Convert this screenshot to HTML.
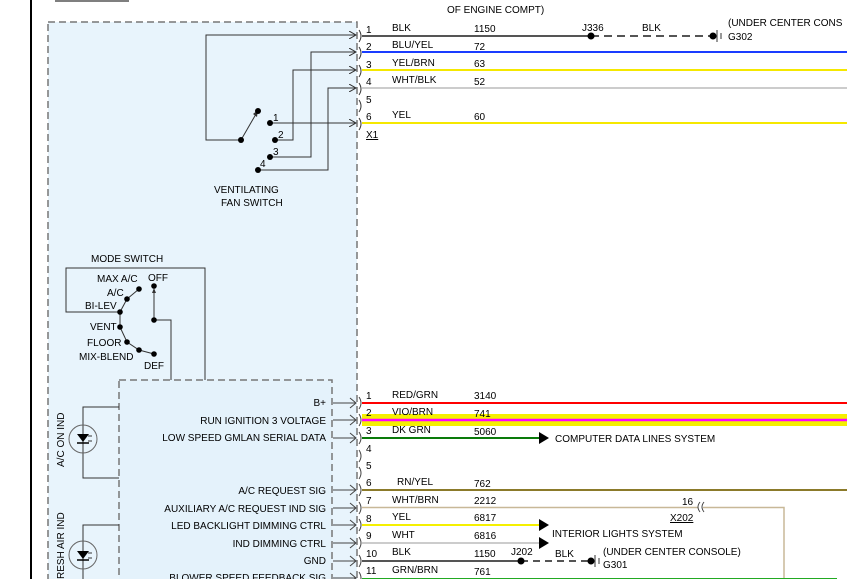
<!DOCTYPE html>
<html><head><meta charset="utf-8"><style>
html,body{margin:0;padding:0;background:#fff}
svg{display:block;font-family:"Liberation Sans",sans-serif;font-size:10px}
</style></head><body>
<svg width="847" height="579" viewBox="0 0 847 579" xmlns="http://www.w3.org/2000/svg">
<defs>
<marker id="a" markerWidth="8" markerHeight="8" refX="7" refY="4" orient="auto" markerUnits="userSpaceOnUse"><path d="M0,0 L7,4 L0,8" fill="none" stroke="#333" stroke-width="1"/></marker>
</defs>
<line x1="31" y1="0" x2="31" y2="579" stroke="#000" stroke-width="2"/>
<line x1="55" y1="1" x2="129" y2="1" stroke="#555" stroke-width="1.5"/>
<rect x="48" y="22" width="309" height="570" fill="#e8f4fc" stroke="#777" stroke-dasharray="7,4" stroke-width="1.5"/>
<rect x="119" y="380" width="213" height="220" fill="#e4f2fb" stroke="#777" stroke-dasharray="7,4" stroke-width="1.5"/>
<text x="447" y="13">OF ENGINE COMPT)</text>
<!-- top wires -->
<g stroke-width="2">
<line x1="362" y1="36" x2="591" y2="36" stroke="#555"/>
<line x1="591" y1="36" x2="712" y2="36" stroke="#555" stroke-dasharray="8,5"/>
<line x1="362" y1="52" x2="847" y2="52" stroke="#1a3cff"/>
<line x1="362" y1="70" x2="847" y2="70" stroke="#f5e800"/>
<line x1="362" y1="88" x2="847" y2="88" stroke="#ccc"/>
<line x1="362" y1="123" x2="847" y2="123" stroke="#f5e800"/>
</g>
<circle cx="591" cy="36" r="3.5"/><circle cx="713" cy="36" r="3.5"/>
<line x1="717" y1="30" x2="717" y2="42" stroke="#333"/><line x1="721" y1="33" x2="721" y2="39" stroke="#333"/>
<text x="582" y="31">J336</text><text x="642" y="31">BLK</text>
<text x="728" y="26">(UNDER CENTER CONS</text><text x="728" y="40">G302</text>
<g>
<text x="366" y="33">1</text><text x="392" y="31">BLK</text><text x="474" y="32">1150</text>
<text x="366" y="50">2</text><text x="392" y="48">BLU/YEL</text><text x="474" y="50">72</text>
<text x="366" y="68">3</text><text x="392" y="66">YEL/BRN</text><text x="474" y="67">63</text>
<text x="366" y="85">4</text><text x="392" y="83">WHT/BLK</text><text x="474" y="85">52</text>
<text x="366" y="103">5</text>
<text x="366" y="120">6</text><text x="392" y="118">YEL</text><text x="474" y="120">60</text>
<text x="366" y="138" text-decoration="underline">X1</text>
</g>
<g fill="none" stroke="#333" stroke-width="1">
<path d="M359,30 q4,6 0,12 M359,47 q4,6 0,12 M359,65 q4,6 0,12 M359,83 q4,6 0,12 M359,100 q4,6 0,12 M359,118 q4,6 0,12"/>
<path d="M241,140 H206 V35 H356" marker-end="url(#a)"/>
<path d="M270,123 H356" marker-end="url(#a)"/>
<path d="M275,140 H293 V70 H356" marker-end="url(#a)"/>
<path d="M270,157 H311 V52 H356" marker-end="url(#a)"/>
<path d="M258,170 H328 V88 H356" marker-end="url(#a)"/>
<line x1="241" y1="140" x2="256" y2="114"/>
</g>
<path d="M253,114 L258,110 L257,117 Z" fill="#333"/>
<circle cx="241" cy="140" r="3"/><circle cx="258" cy="111" r="3"/>
<circle cx="270" cy="123" r="3"/><circle cx="275" cy="140" r="3"/><circle cx="270" cy="157" r="3"/><circle cx="258" cy="170" r="3"/>
<text x="273" y="121">1</text><text x="278" y="138">2</text><text x="273" y="155">3</text><text x="260" y="167">4</text>
<text x="214" y="193">VENTILATING</text><text x="221" y="206">FAN SWITCH</text>
<!-- mode switch -->
<text x="91" y="262">MODE SWITCH</text>
<g fill="none" stroke="#333">
<path d="M120,312 H66 V268 H205 V380"/>
<path d="M139,289 L127,299 L120,312 L120,327 L127,342 L139,350 L154,354"/>
<path d="M154,289 V320 H171 V380"/>
</g>
<path d="M152,293 L154,288 L156,293 Z" fill="#333"/>
<g><circle cx="139" cy="289" r="2.8"/><circle cx="127" cy="299" r="2.8"/><circle cx="120" cy="312" r="2.8"/><circle cx="120" cy="327" r="2.8"/><circle cx="127" cy="342" r="2.8"/><circle cx="139" cy="350" r="2.8"/><circle cx="154" cy="354" r="2.8"/><circle cx="154" cy="286" r="2.8"/><circle cx="154" cy="320" r="2.8"/></g>
<text x="97" y="282">MAX A/C</text><text x="148" y="281">OFF</text><text x="107" y="296">A/C</text><text x="85" y="309">BI-LEV</text>
<text x="90" y="330">VENT</text><text x="87" y="346">FLOOR</text><text x="79" y="360">MIX-BLEND</text><text x="144" y="369">DEF</text>
<!-- LEDs -->
<g fill="none" stroke="#333">
<path d="M119,407 H83 V478 H119"/><circle cx="83" cy="439" r="14" stroke="#666"/>
<path d="M119,525 H83 V579"/><circle cx="83" cy="555" r="14" stroke="#666"/>
<path d="M88,436 l4,0 M88,441 l4,0"/><path d="M88,553 l4,0 M88,558 l4,0"/>
</g>
<path d="M77,434 H89 L83,442 Z M77,551 H89 L83,559 Z"/>
<line x1="77" y1="443" x2="89" y2="443" stroke="#000" stroke-width="1.5"/><line x1="77" y1="560" x2="89" y2="560" stroke="#000" stroke-width="1.5"/>
<text transform="translate(64,467) rotate(-90)">A/C ON IND</text>
<text transform="translate(64,579) rotate(-90)">RESH AIR IND</text>
<!-- lower labels -->
<g text-anchor="end">
<text x="326" y="406">B+</text><text x="326" y="424">RUN IGNITION 3 VOLTAGE</text><text x="326" y="441">LOW SPEED GMLAN SERIAL DATA</text>
<text x="326" y="494">A/C REQUEST SIG</text><text x="326" y="512">AUXILIARY A/C REQUEST IND SIG</text><text x="326" y="529">LED BACKLIGHT DIMMING CTRL</text>
<text x="326" y="547">IND DIMMING CTRL</text><text x="326" y="564">GND</text><text x="326" y="581">BLOWER SPEED FEEDBACK SIG</text>
</g>
<g fill="none" stroke="#444">
<path d="M333,403 H356 M333,420 H356 M333,438 H356 M333,490 H356 M333,508 H356 M333,525 H356 M333,543 H356 M333,561 H356 M333,578 H356" />
<path d="M350,398 l6,5 l-6,5 M350,415 l6,5 l-6,5 M350,433 l6,5 l-6,5 M350,485 l6,5 l-6,5 M350,503 l6,5 l-6,5 M350,520 l6,5 l-6,5 M350,538 l6,5 l-6,5 M350,556 l6,5 l-6,5 M350,573 l6,5 l-6,5"/>
<path d="M359,397 q4,6 0,12 M359,414 q4,6 0,12 M359,432 q4,6 0,12 M359,450 q4,6 0,12 M359,467 q4,6 0,12 M359,484 q4,6 0,12 M359,502 q4,6 0,12 M359,519 q4,6 0,12 M359,537 q4,6 0,12 M359,555 q4,6 0,12 M359,572 q4,6 0,12"/>
</g>
<rect x="362" y="414" width="485" height="12" fill="#f5f000"/>
<line x1="362" y1="420" x2="847" y2="420" stroke="#f0f" stroke-width="2.5"/>
<line x1="362" y1="403" x2="847" y2="403" stroke="#f00" stroke-width="2"/>
<line x1="362" y1="438" x2="540" y2="438" stroke="#0a7a0a" stroke-width="2"/>
<path d="M539,432 L549,438 L539,444 Z"/>
<text x="555" y="442">COMPUTER DATA LINES SYSTEM</text>
<line x1="362" y1="490" x2="847" y2="490" stroke="#8b7a2a" stroke-width="2"/>
<path d="M362,507.5 H698 M703,507.5 H784 V579" fill="none" stroke="#c8b898" stroke-width="1.5"/>
<path d="M700,502 q-4,5 0,10 M704,502 q-4,5 0,10" fill="none" stroke="#444"/>
<text x="682" y="505">16</text><text x="670" y="521" text-decoration="underline">X202</text>
<line x1="362" y1="525" x2="540" y2="525" stroke="#f5f000" stroke-width="2"/>
<path d="M539,519 L549,525 L539,531 Z"/>
<line x1="362" y1="543" x2="540" y2="543" stroke="#ccc" stroke-width="2"/>
<path d="M539,537 L549,543 L539,549 Z"/>
<text x="552" y="537">INTERIOR LIGHTS SYSTEM</text>
<line x1="362" y1="561" x2="521" y2="561" stroke="#555" stroke-width="2"/>
<line x1="521" y1="561" x2="591" y2="561" stroke="#555" stroke-width="2" stroke-dasharray="7,5"/>
<circle cx="521" cy="561" r="3.5"/><circle cx="591" cy="561" r="3.5"/>
<line x1="595" y1="555" x2="595" y2="567" stroke="#333"/><line x1="599" y1="558" x2="599" y2="564" stroke="#333"/>
<text x="511" y="555">J202</text><text x="555" y="557">BLK</text>
<text x="603" y="555">(UNDER CENTER CONSOLE)</text><text x="603" y="568">G301</text>
<line x1="362" y1="579" x2="837" y2="579" stroke="#2a2" stroke-width="2"/>
<g>
<text x="366" y="399">1</text><text x="392" y="398">RED/GRN</text><text x="474" y="399">3140</text>
<text x="366" y="416">2</text><text x="392" y="415">VIO/BRN</text><text x="474" y="417">741</text>
<text x="366" y="434">3</text><text x="392" y="433">DK GRN</text><text x="474" y="435">5060</text>
<text x="366" y="452">4</text><text x="366" y="469">5</text>
<text x="366" y="486">6</text><text x="397" y="485">RN/YEL</text><text x="474" y="487">762</text>
<text x="366" y="504">7</text><text x="392" y="503">WHT/BRN</text><text x="474" y="504">2212</text>
<text x="366" y="522">8</text><text x="392" y="520">YEL</text><text x="474" y="521">6817</text>
<text x="366" y="539">9</text><text x="392" y="538">WHT</text><text x="474" y="539">6816</text>
<text x="366" y="557">10</text><text x="392" y="555">BLK</text><text x="474" y="557">1150</text>
<text x="366" y="574">11</text><text x="392" y="573">GRN/BRN</text><text x="474" y="575">761</text>
</g>
</svg>
</body></html>
